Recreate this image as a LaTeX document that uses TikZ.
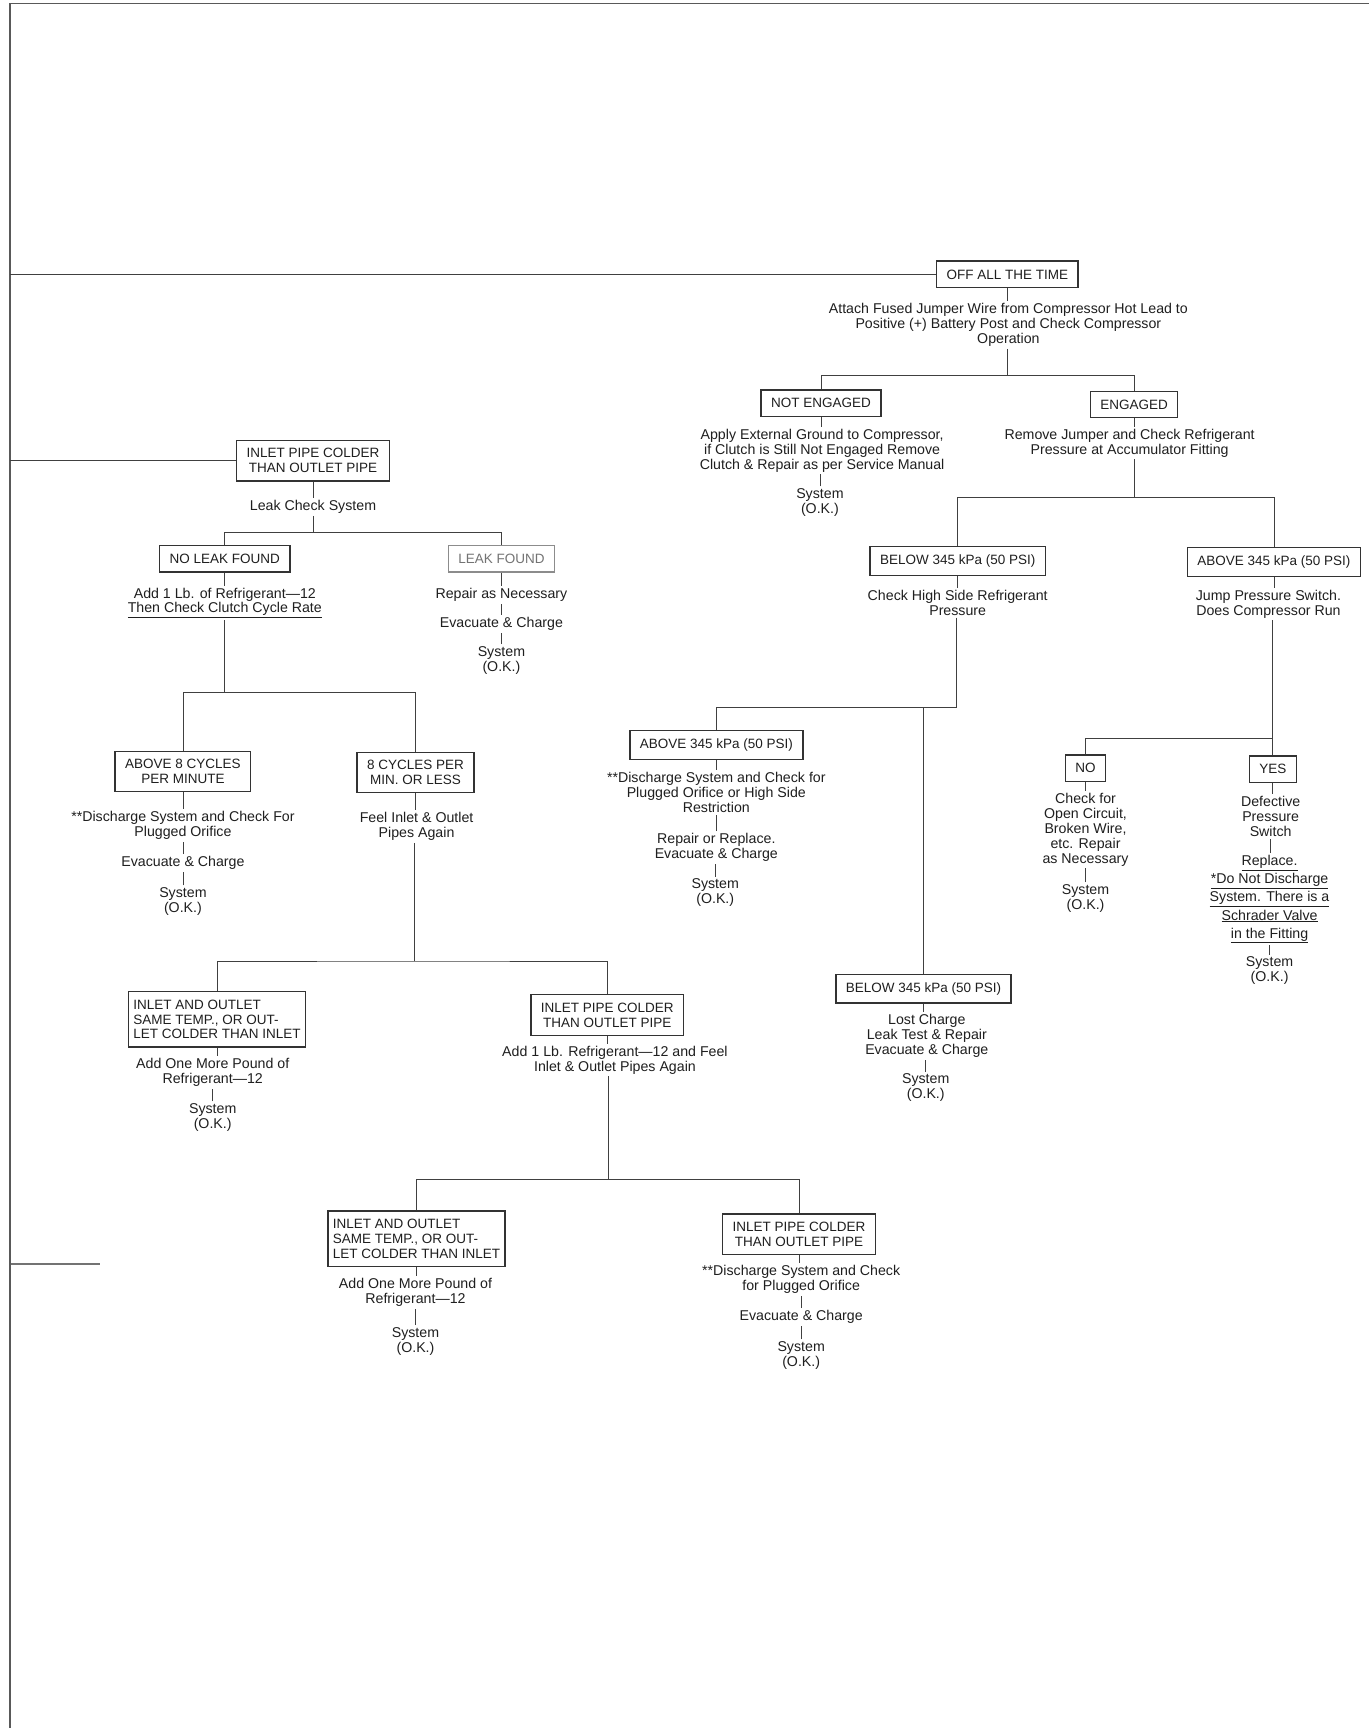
\documentclass[tikz,border=0pt]{standalone}
\usepackage{fontspec}
\setmainfont{Liberation Sans}
\usepackage{tikz}
\usetikzlibrary{positioning}
\tikzset{
  cond/.style  ={rectangle, draw=black!80, line width=1.4pt, inner xsep=10pt, inner ysep=8pt,
                 minimum height=26.5pt, align=center, font=\boxfont, text=black!88},
  faded/.style ={draw=black!45, text=black!55},
  tight/.style ={align=left, inner xsep=5pt},
  note/.style  ={inner sep=2pt, align=center, font=\bodyfont, text=black!88},
  ulnote/.style={note, font=\fontsize{14.2}{18.2}\selectfont},
  ln/.style    ={draw=black!75, line width=0.8pt},
  frm/.style   ={draw=black!65, line width=1.6pt},
}
\newcommand{\boxfont}{\fontsize{13.5}{14.9}\selectfont}
\newcommand{\bodyfont}{\fontsize{14.2}{14.9}\selectfont}
\newcommand{\sysok}{System\\(O.K.)}

\begin{document}
\begin{tikzpicture}[x=1.1023pt, y=-1.1023pt]
\useasboundingbox (0,0) rectangle (1242,1568);
\fill[white] (0,0) rectangle (1242,1568);

% page frame
\coordinate (edge) at (9,0);
\draw[frm] (9,1568) -- (9,3) -- (1242,3);
\draw[frm, draw=black!55] (10,1147) -- (91,1147);

% compressor off all the time
\node[cond] (off) at (914,249) {OFF ALL THE TIME};
\node[note] (offtxt) at (915,295) {Attach Fused Jumper Wire from Compressor Hot Lead to\\Positive (+) Battery Post and Check Compressor\\Operation};
\coordinate (jeng) at (914,341);

\node[cond] (noteng) at (745,366) {NOT ENGAGED};
\node[note] (notengtxt) at (746,409) {Apply External Ground to Compressor,\\if Clutch is Still Not Engaged Remove\\Clutch \& Repair as per Service Manual};
\node[note] (notengok) at (744,456) {\sysok};

\node[cond] (eng) at (1029,367) {ENGAGED};
\node[note] (engtxt) at (1025,402) {Remove Jumper and Check Refrigerant\\Pressure at Accumulator Fitting};
\coordinate (jpress) at (1029,451);

\node[cond] (lowA) at (869,509) {BELOW 345 kPa (50 PSI)};
\node[cond] (highA) at (1156,510) {ABOVE 345 kPa (50 PSI)};
\node[note] (lowAtxt) at (869,547) {Check High Side Refrigerant\\Pressure};
\node[note] (highAtxt) at (1151,548) {Jump Pressure Switch.\\Does Compressor Run};
\coordinate (jhigh) at (868,642);
\coordinate (jrun) at (1155,670);

\node[cond] (highB) at (650,676) {ABOVE 345 kPa (50 PSI)};
\node[note] (highBtxt) at (650,719) {**Discharge System and Check for\\Plugged Orifice or High Side\\Restriction};
\node[note] (highBrep) at (650,769) {Repair or Replace.\\Evacuate \& Charge};
\node[note] (highBok) at (649,810) {\sysok};

\node[cond] (lowB) at (838,897) {BELOW 345 kPa (50 PSI)};
\node[note] (lowBtxt) at (841,940) {Lost Charge\\Leak Test \& Repair\\Evacuate \& Charge};
\node[note] (lowBok) at (840,987) {\sysok};

\node[cond] (no) at (985,697) {NO};
\node[note] (notxt) at (985,753) {Check for\\Open Circuit,\\Broken Wire,\\etc. Repair\\as Necessary};
\node[note] (nook) at (985,815) {\sysok};

\node[cond] (yes) at (1155,698) {YES};
\node[note] (yestxt) at (1153,741) {Defective\\Pressure\\Switch};
\node[ulnote] (yesrep) at (1152,816) {\underline{Replace.}\\\underline{*Do Not Discharge}\\\underline{System. There is a}\\\underline{Schrader Valve}\\\underline{in the Fitting}};
\node[note] (yesok) at (1152,881) {\sysok};

% inlet pipe colder than outlet pipe
\node[cond] (inA) at (284,418) {INLET PIPE COLDER\\THAN OUTLET PIPE};
\node[note] (leakchk) at (284,460) {Leak Check System};
\coordinate (jleak) at (284,483);

\node[cond] (noleak) at (204,507) {NO LEAK FOUND};
\node[note] (noleaktxt) at (204,547) {Add 1 Lb. of Refrigerant—12\\\underline{Then Check Clutch Cycle Rate}};
\coordinate (jcyc) at (204,628);

\node[cond, faded] (leak) at (455,507) {LEAK FOUND};
\node[note] (leaktxt) at (455,540) {Repair as Necessary};
\node[note] (leakev) at (455,566) {Evacuate \& Charge};
\node[note] (leakok) at (455,599) {\sysok};

\node[cond] (cycHi) at (166,700) {ABOVE 8 CYCLES\\PER MINUTE};
\node[note] (cycHitxt) at (166,749) {**Discharge System and Check For\\Plugged Orifice};
\node[note] (cycHiev) at (166,783) {Evacuate \& Charge};
\node[note] (cycHiok) at (166,818) {\sysok};

\node[cond] (cycLo) at (377,701) {8 CYCLES PER\\MIN. OR LESS};
\node[note] (cycLotxt) at (378,750) {Feel Inlet \& Outlet\\Pipes Again};
\coordinate (jfeel) at (376,872);

\node[cond, tight] (sameA) at (197,925) {INLET AND OUTLET\\SAME TEMP., OR OUT-\\LET COLDER THAN INLET};
\node[note] (sameAtxt) at (193,973) {Add One More Pound of\\Refrigerant—12};
\node[note] (sameAok) at (193,1014) {\sysok};

\node[cond] (inB) at (551,921) {INLET PIPE COLDER\\THAN OUTLET PIPE};
\node[note] (inBtxt) at (558,962) {Add 1 Lb. Refrigerant—12 and Feel\\Inlet \& Outlet Pipes Again};
\coordinate (jfeel2) at (552,1070);

\node[cond, tight] (sameB) at (378,1124) {INLET AND OUTLET\\SAME TEMP., OR OUT-\\LET COLDER THAN INLET};
\node[note] (sameBtxt) at (377,1173) {Add One More Pound of\\Refrigerant—12};
\node[note] (sameBok) at (377,1217) {\sysok};

\node[cond] (inC) at (725,1120) {INLET PIPE COLDER\\THAN OUTLET PIPE};
\node[note] (inCtxt) at (727,1161) {**Discharge System and Check\\for Plugged Orifice};
\node[note] (inCev) at (727,1195) {Evacuate \& Charge};
\node[note] (inCok) at (727,1230) {\sysok};

% connectors, right half
\draw[ln] (off.west) -- (off.west -| edge);
\draw[ln] (off.south) -- (off.south |- offtxt.north);
\draw[ln] (offtxt.south -| jeng) -- (jeng);
\draw[ln] (noteng.north) |- (jeng) -| (eng.north);
\draw[ln] (noteng.south) -- (noteng.south |- notengtxt.north);
\draw[ln] (notengok.north) -- (notengok.north |- notengtxt.south);
\draw[ln] (eng.south) -- (eng.south |- engtxt.north);
\draw[ln] (engtxt.south -| jpress) -- (jpress);
\draw[ln] (lowA.north) |- (jpress) -| (highA.north);
\draw[ln] (lowA.south) -- (lowA.south |- lowAtxt.north);
\draw[ln] (lowAtxt.south -| jhigh) -- (jhigh);
\draw[ln] (highB.north) |- (jhigh);
\draw[ln] (lowB.north) -- (lowB.north |- jhigh);
\draw[ln] (highB.south) -- (highB.south |- highBtxt.north);
\draw[ln] (highBrep.north) -- (highBrep.north |- highBtxt.south);
\draw[ln] (highBok.north) -- (highBok.north |- highBrep.south);
\draw[ln] (lowB.south) -- (lowB.south |- lowBtxt.north);
\draw[ln] (lowBok.north) -- (lowBok.north |- lowBtxt.south);
\draw[ln] (highA.south) -- (highA.south |- highAtxt.north);
\draw[ln] (highAtxt.south -| jrun) -- (jrun);
\draw[ln] (no.north) |- (jrun) -- (yes.north);
\draw[ln] (no.south) -- (no.south |- notxt.north);
\draw[ln] (nook.north) -- (nook.north |- notxt.south);
\draw[ln] (yes.south) -- (yes.south |- yestxt.north);
\draw[ln] (yesrep.north -| yestxt.south) -- (yestxt.south);
\draw[ln] (yesok.north) -- (yesok.north |- yesrep.south);

% connectors, left half
\draw[ln] (inA.west) -- (inA.west -| edge);
\draw[ln] (inA.south) -- (inA.south |- leakchk.north);
\draw[ln] (leakchk.south) -- (jleak);
\draw[ln] (noleak.north) |- (jleak) -| (leak.north);
\draw[ln] (noleak.south) -- (noleak.south |- noleaktxt.north);
\draw[ln] (noleaktxt.south -| jcyc) -- (jcyc);
\draw[ln] (cycHi.north) |- (jcyc) -| (cycLo.north);
\draw[ln] (leak.south) -- (leak.south |- leaktxt.north);
\draw[ln] (leakev.north) -- (leakev.north |- leaktxt.south);
\draw[ln] (leakok.north) -- (leakok.north |- leakev.south);
\draw[ln] (cycHi.south) -- (cycHi.south |- cycHitxt.north);
\draw[ln] (cycHiev.north) -- (cycHiev.north |- cycHitxt.south);
\draw[ln] (cycHiok.north) -- (cycHiok.north |- cycHiev.south);
\draw[ln] (cycLo.south) -- (cycLo.south |- cycLotxt.north);
\draw[ln] (cycLotxt.south -| jfeel) -- (jfeel);
\draw[ln] (sameA.north) |- (jfeel) -| (inB.north);
\draw[ln] (sameA.south) -- (sameA.south |- sameAtxt.north);
\draw[ln] (sameAok.north) -- (sameAok.north |- sameAtxt.south);
\draw[ln] (inB.south) -- (inB.south |- inBtxt.north);
\draw[ln] (inBtxt.south -| jfeel2) -- (jfeel2);
\draw[ln] (sameB.north) |- (jfeel2) -| (inC.north);
\draw[ln] (sameB.south) -- (sameB.south |- sameBtxt.north);
\draw[ln] (sameBok.north) -- (sameBok.north |- sameBtxt.south);
\draw[ln] (inC.south) -- (inC.south |- inCtxt.north);
\draw[ln] (inCev.north) -- (inCev.north |- inCtxt.south);
\draw[ln] (inCok.north) -- (inCok.north |- inCev.south);

\end{tikzpicture}
\end{document}
